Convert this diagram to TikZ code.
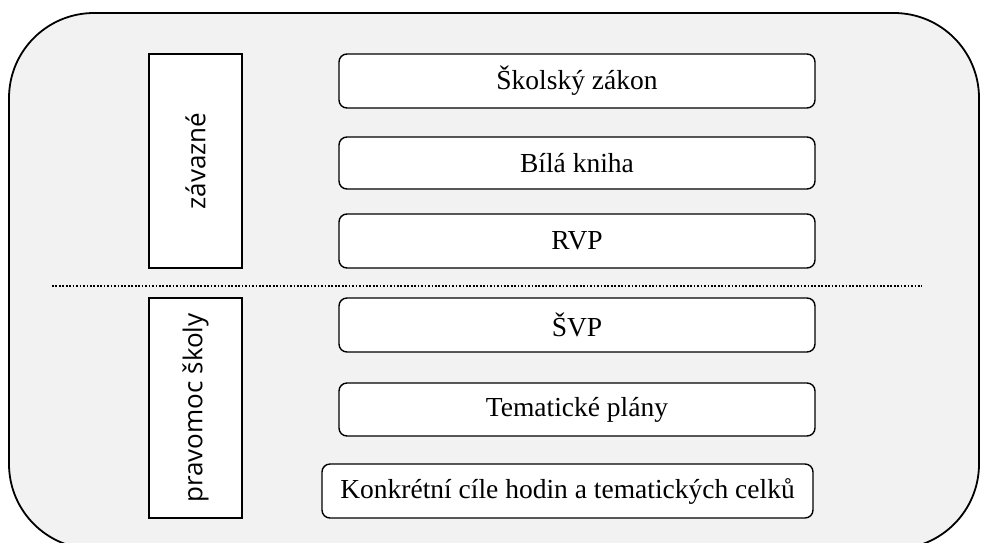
\documentclass[tikz,border=0pt]{standalone}
\usepackage{fontspec}
\setmainfont{Liberation Serif}
\newfontfamily\boxsans{Open Sans}
\begin{document}
\begin{tikzpicture}[x=1pt,y=-1pt,
  rbox/.style={draw=black,fill=white,line width=1.4pt,rounded corners=8pt,inner sep=0pt,
    minimum height=54pt,font=\fontsize{27.5}{30}\selectfont},
  vbox/.style={draw=black,fill=white,line width=1.4pt,inner sep=0pt,rotate=90,
    minimum height=93pt,font=\boxsans\fontsize{26}{30}\selectfont},
  sepline/.style={line width=2pt,dash pattern=on 1.7pt off 1.75pt}]
\useasboundingbox (0,0) rectangle (982,542);
\begin{scope}
\clip (0,0) rectangle (982,542);
\draw[fill={rgb,255:red,242;green,242;blue,242},line width=1.8pt,rounded corners=85pt] (9,13) rectangle (979,549);
\end{scope}
\node[rbox,minimum width=476pt] (zak) at (577,81) {Školský zákon};
\node[rbox,minimum width=476pt,minimum height=52pt] (bila) at (577,163) {Bílá kniha};
\node[rbox,minimum width=476pt] (rvp) at (577,241) {RVP};
\node[rbox,minimum width=476pt] (svp) at (577,325) {ŠVP};
\node[rbox,minimum width=476pt,minimum height=53pt] (tem) at (577,409.5) {Tematické plány};
\node[rbox,minimum width=491pt] (konk) at (567.5,491) {Konkrétní cíle hodin a tematických celků};
\node[vbox,minimum width=214pt] (zav) at (195.5,161) {závazné};
\node[vbox,minimum width=220pt] (prav) at (195.5,408) {pravomoc školy};
\coordinate (sl) at (52,286);
\coordinate (sr) at (922,286);
\draw[sepline] (sl) -- (sr);
\end{tikzpicture}
\end{document}
